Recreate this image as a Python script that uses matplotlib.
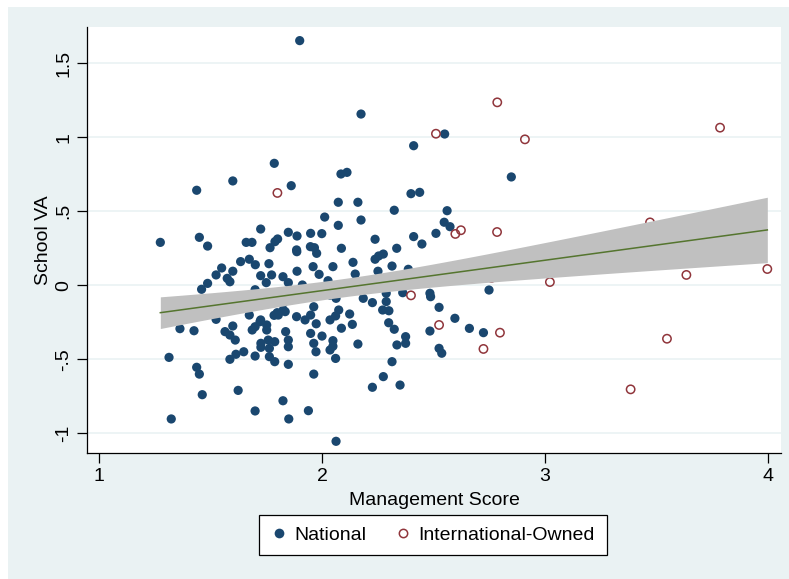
import numpy as np
import matplotlib
matplotlib.use("Agg")
import matplotlib.pyplot as plt
from matplotlib.patches import Rectangle
from matplotlib.lines import Line2D

plt.rcParams['font.family'] = ['Liberation Sans', 'DejaVu Sans']

# National schools (management score, school value added)
nat_x = [1.90, 2.175, 2.55, 2.411, 1.786, 1.600, 1.438, 1.862, 2.085, 2.112, 2.399, 2.438,
         2.073, 2.161, 2.012, 2.073, 2.175, 2.324, 2.561, 2.548, 2.574, 2.511, 2.411, 2.448,
         2.238, 2.335, 1.275, 1.450, 1.487, 1.66, 1.686, 1.725, 1.849, 1.888, 1.949, 1.999,
         1.801, 1.789, 1.767, 2.087, 1.948, 1.966, 1.886, 2.849,
         1.887, 1.976, 2.254, 2.275, 2.238, 2.314, 2.139, 2.049, 1.96, 1.987, 2.149, 2.251,
         2.387, 1.888, 1.762, 1.635, 1.674, 1.701, 1.55, 1.525, 1.60, 1.575, 1.587, 1.725,
         1.774, 1.75, 1.825, 1.849, 1.487, 1.46, 1.70, 1.912, 2.027, 2.288, 2.288, 2.272,
         2.30, 2.362, 2.185, 2.226, 2.484, 2.487, 2.525, 2.596, 2.484, 2.299, 2.324, 2.375,
         2.375, 2.336, 2.525, 2.537, 2.314, 2.275, 2.226, 2.35, 2.161, 2.124, 2.136, 2.087,
         2.075, 2.061, 2.036, 2.049, 2.049, 2.036, 2.061, 2.0, 1.949, 1.963, 1.973, 1.963,
         1.974, 1.963, 1.949, 1.924, 1.886, 1.835, 1.804, 1.785, 1.837, 1.849, 1.849, 1.849,
         1.825, 1.851, 1.939, 2.063, 1.788, 1.759, 1.726, 1.726, 1.764, 1.752, 1.788, 1.764,
         1.70, 1.649, 1.614, 1.587, 1.70, 1.722, 1.687, 1.725, 1.674, 1.60, 1.565, 1.587,
         1.611, 1.525, 1.426, 1.363, 1.314, 1.438, 1.45, 1.463, 1.624, 1.70, 1.324, 1.825,
         1.826, 1.799, 2.036, 2.063, 2.749, 2.661, 2.724, 1.752]
nat_y = [1.653, 1.157, 1.022, 0.943, 0.824, 0.705, 0.642, 0.673, 0.752, 0.763, 0.619, 0.628,
         0.561, 0.561, 0.461, 0.405, 0.441, 0.507, 0.504, 0.426, 0.396, 0.351, 0.329, 0.279,
         0.311, 0.25, 0.29, 0.324, 0.265, 0.29, 0.29, 0.38, 0.358, 0.333, 0.351, 0.349,
         0.313, 0.295, 0.254, 0.25, 0.261, 0.254, 0.239, 0.732,
         0.227, 0.216, 0.198, 0.211, 0.176, 0.13, 0.155, 0.126, 0.126, 0.074, 0.076, 0.095,
         0.108, 0.095, 0.146, 0.16, 0.176, 0.139, 0.117, 0.07, 0.095, 0.047, 0.024, 0.065,
         0.07, 0.018, 0.058, 0.018, 0.013, -0.027, -0.03, 0.002, 0.031, -0.054, -0.11, -0.167,
         -0.172, -0.05, -0.088, -0.117, -0.054, -0.077, -0.149, -0.223, -0.309, -0.253, -0.297, -0.347,
         -0.392, -0.403, -0.426, -0.459, -0.516, -0.617, -0.689, -0.674, -0.397, -0.194, -0.264, -0.29,
         -0.167, -0.207, -0.234, -0.374, -0.412, -0.437, -0.494, -0.343, -0.325, -0.392, -0.449, -0.6,
         -0.26, -0.145, -0.201, -0.234, -0.212, -0.178, -0.201, -0.203, -0.313, -0.37, -0.415, -0.534,
         -0.78, -0.903, -0.847, -1.054, -0.381, -0.37, -0.392, -0.419, -0.426, -0.302, -0.516, -0.482,
         -0.478, -0.449, -0.466, -0.5, -0.28, -0.246, -0.302, -0.234, -0.201, -0.275, -0.313, -0.336,
         -0.37, -0.23, -0.307, -0.293, -0.487, -0.554, -0.6, -0.739, -0.71, -0.849, -0.903, -0.122,
         -0.167, -0.185, -0.066, -0.088, -0.032, -0.291, -0.32, -0.268]

# International-owned schools
int_x = [2.511, 1.80, 2.598, 2.623, 2.785, 2.786, 2.91, 3.785, 3.471, 3.997, 3.634, 3.022,
         2.76, 2.399, 2.525, 2.798, 2.724, 3.547, 3.384]
int_y = [1.024, 0.624, 0.347, 0.372, 0.36, 1.236, 0.986, 1.065, 0.425, 0.11, 0.07, 0.022,
         0.05, -0.068, -0.268, -0.32, -0.43, -0.361, -0.703]

# fitted line and 95% CI half-width at the two ends of the data range
fit_end_y = [-0.185, 0.374]
ci_end_half = [0.107, 0.221]

xticks = [1, 2, 3, 4]
yticks = [-1, -0.5, 0, 0.5, 1, 1.5]
ytick_labels = ['-1', '-.5', '0', '.5', '1', '1.5']

navy = '#1a476f'
maroon = '#90353b'
bg = '#eaf2f3'

# linear fit + CI band over the range of all schools
all_x = np.array(nat_x + int_x)
xl, xr = all_x.min(), all_x.max()
xm = all_x.mean()
slope = (fit_end_y[1] - fit_end_y[0]) / (xr - xl)
xs = np.linspace(xl, xr, 200)
yhat = fit_end_y[0] + slope * (xs - xl)
b = (ci_end_half[1] ** 2 - ci_end_half[0] ** 2) / ((xr - xm) ** 2 - (xl - xm) ** 2)
a = ci_end_half[0] ** 2 - b * (xl - xm) ** 2
half = np.sqrt(a + b * (xs - xm) ** 2)

fig = plt.figure(figsize=(7.89, 5.79), dpi=100)
fig.patch.set_facecolor('white')
fig.patches.append(Rectangle((8 / 789, 0), 1, 1 - 7 / 579, transform=fig.transFigure,
                             facecolor=bg, edgecolor='none', zorder=-10))

ax = fig.add_axes([87.3 / 789, 1 - 453 / 579, (780.7 - 87.3) / 789, (453 - 27.3) / 579])
ax.set_zorder(1)
ax.set_facecolor('white')

ax.scatter(nat_x, nat_y, s=44, color=navy, edgecolors='none', zorder=3)
ax.scatter(int_x, int_y, s=36, facecolors='none', edgecolors=maroon, linewidths=1.1, zorder=3)
ax.fill_between(xs, yhat - half, yhat + half, color='#c0c0c0', lw=0, zorder=4)
ax.plot(xs, yhat, color='#55752f', lw=1.1, zorder=5)

ax.set_xlim(0.9475, 4.057)
ax.set_ylim(-1.133, 1.743)
ax.set_xticks(xticks)
ax.set_yticks(yticks)
ax.set_yticklabels(ytick_labels, rotation=90, va='center')
ax.tick_params(axis='both', direction='out', length=7, width=0.9, labelsize=14, pad=4)
ax.yaxis.grid(True, color=bg, lw=1.2)
ax.set_axisbelow(True)
for side in ['top', 'right']:
    ax.spines[side].set_visible(False)
for side in ['left', 'bottom']:
    ax.spines[side].set_linewidth(0.9)

ax.set_xlabel('Management Score', fontsize=14, labelpad=5)
ax.set_ylabel('School VA', fontsize=14, labelpad=2)

handles = [Line2D([], [], ls='none', marker='o', markersize=7, color=navy, markeredgecolor='none'),
           Line2D([], [], ls='none', marker='o', markersize=6, markerfacecolor='none',
                  markeredgecolor=maroon, markeredgewidth=1.1)]
leg = fig.legend(handles, ['National', 'International-Owned'], loc='center',
                 bbox_to_anchor=(433 / 789, 1 - 535 / 579), ncol=2, fontsize=14,
                 frameon=True, fancybox=False, edgecolor='black', handlelength=0.8,
                 handletextpad=0.4, columnspacing=1.5, borderpad=0.6, borderaxespad=0)
leg.get_frame().set_linewidth(0.9)
leg.get_frame().set_facecolor('white')
leg.get_frame().set_alpha(1)

fig.savefig('out.png', dpi=100)
